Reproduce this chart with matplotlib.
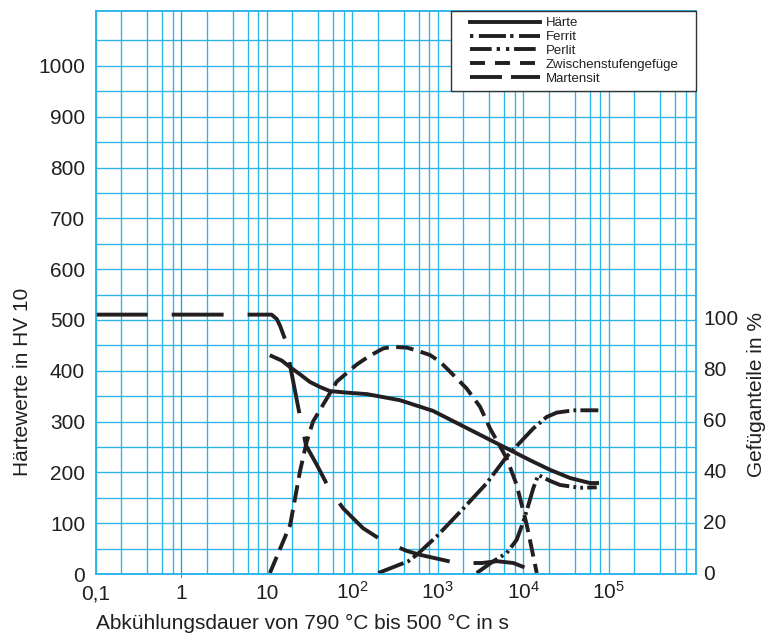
import matplotlib
matplotlib.use('Agg')
import matplotlib.pyplot as plt
from matplotlib.legend_handler import HandlerLine2D
from matplotlib.lines import Line2D
from matplotlib.ticker import NullFormatter

plt.rcParams['font.family'] = ['Liberation Sans', 'DejaVu Sans']
plt.rcParams['mathtext.fontset'] = 'custom'
plt.rcParams['mathtext.rm'] = 'Liberation Sans'
plt.rcParams['mathtext.it'] = 'Liberation Sans:italic'
plt.rcParams['mathtext.bf'] = 'Liberation Sans:bold'
plt.rcParams['lines.scale_dashes'] = False

# ---------------- data ----------------
# Härte (left axis, HV 10) vs. cooling time in s
haerte_t = [11.4, 15, 18.8, 24.5, 32, 42, 55, 86, 149, 362, 881, 2200, 5350,
            12000, 20600, 35200, 60400, 73000]
haerte_hv = [429, 420, 407, 393, 378, 368, 360, 357, 354, 342, 321, 287, 254,
             224, 205, 189, 179, 179]

# Gefügeanteile (right axis, %)
ferrit_t = [202, 453, 568, 972, 1990, 3740, 6410, 13100, 18800, 24700, 38600, 75600]
ferrit_pct = [0, 4.6, 7.1, 14.3, 25.2, 35.1, 45.5, 56.5, 61.0, 62.7, 63.6, 63.6]

perlit_t = [2860, 4470, 6410, 8390, 10030, 11500, 13100, 15000, 20600, 27000,
            46100, 72400]
perlit_pct = [0, 4.6, 7.8, 13.0, 20.1, 26.6, 33.1, 38.3, 36.0, 34.4, 33.3, 33.5]

zwischen_t = [10.9, 18.8, 24.5, 29.4, 34.8, 50.4, 65.9, 113, 160, 231, 300, 434, 568,
              813, 1063, 1393, 2180, 3125, 4090, 6410, 8390, 11000, 14400]
zwischen_pct = [0, 18.8, 39.7, 51.4, 59.2, 68.2, 74.8, 81.5, 84.9, 87.8, 88.4, 88.1, 87.0,
                85.2, 82.6, 78.7, 72.1, 65.0, 56.5, 44.8, 34.4, 18.8, 0]

martensit_t = [0.1, 11.4, 13.1, 14.3, 16.8, 18.8, 24.5, 28.8, 38.8, 53.5, 78.1, 134,
               229, 437, 621, 1667, 3300, 4940, 7650, 13000, 14500]
martensit_pct = [101, 101, 99.3, 96.7, 90.4, 81.0, 61.2, 49.9, 42.1, 33.1, 25.3, 17.5,
                 12.5, 8.6, 7.1, 3.9, 3.9, 4.6, 3.9, 0.9, 0]

series_labels = ['Härte', 'Ferrit', 'Perlit', 'Zwischenstufengefüge', 'Martensit']

x_ticks = [0.1, 1, 10, 100, 1e3, 1e4, 1e5]
x_tick_labels = ['0,1', '1', '10', r'$\mathregular{10^{2}}$', r'$\mathregular{10^{3}}$',
                 r'$\mathregular{10^{4}}$', r'$\mathregular{10^{5}}$']
y_ticks = [0, 100, 200, 300, 400, 500, 600, 700, 800, 900, 1000]
y2_ticks = [0, 20, 40, 60, 80, 100]

# ---------------- style ----------------
INK = '#231f20'
CYAN = '#2ab4e8'
LW = 2.8

ls_ferrit = (0, (19.5, 3, 2, 3))
ls_perlit = (0, (18, 3, 2, 3, 2, 3))
ls_zwischen = (0, (12.6, 5.4))
ls_martensit = (0, (37.4, 17.3))

legend_ls = {
    'Ferrit': (22.5, (19.5, 3, 2.4, 4)),
    'Perlit': (0, (15.6, 3.6, 2.4, 4.3, 2.4, 3.4)),
    'Zwischenstufengefüge': (0, (10.8, 7.2)),
    'Martensit': (0, (23, 6.5)),
}

fig = plt.figure(figsize=(7.67, 6.35), dpi=100)
ax = fig.add_axes([0.12477, 0.09606, 0.78227, 0.88661])
ax.set_xscale('log')
ax.set_xlim(0.1, 1.04e6)
ax.set_ylim(0, 1108)

ax.set_xticks(x_ticks, x_tick_labels)
ax.set_xticks([m * 10.0 ** k for k in range(-1, 6) for m in (2, 4, 6, 8)], minor=True)
ax.xaxis.set_minor_formatter(NullFormatter())
ax.set_yticks(y_ticks)
ax.set_yticks([v + 50 for v in y_ticks], minor=True)
ax.grid(which='both', color=CYAN, lw=0.95)
ax.set_axisbelow(True)
ax.tick_params(which='both', length=0, labelsize=15, labelcolor=INK)
ax.tick_params(axis='y', pad=7.7)
ax.tick_params(axis='x', pad=18.2)
for lab in ax.get_xticklabels():
    lab.set_verticalalignment('baseline')

ax.axvline(1, ymin=-0.006, ymax=0.995, color='#3a8fc4', lw=0.7, clip_on=False, zorder=1.5)

ax2 = ax.twinx()
ax2.set_ylim(-0.4, 219.7)
ax2.set_yticks(y2_ticks)
ax2.tick_params(length=0, labelsize=15, labelcolor=INK, pad=5.3)

for a in (ax, ax2):
    for sp in a.spines.values():
        sp.set_color(CYAN)
        sp.set_linewidth(1.1)

h1, = ax.plot(haerte_t, haerte_hv, color=INK, lw=LW, label=series_labels[0])
h2, = ax2.plot(ferrit_t, ferrit_pct, color=INK, lw=LW, ls=ls_ferrit, label=series_labels[1])
h3, = ax2.plot(perlit_t, perlit_pct, color=INK, lw=LW, ls=ls_perlit, label=series_labels[2])
h4, = ax2.plot(zwischen_t, zwischen_pct, color=INK, lw=LW, ls=ls_zwischen, label=series_labels[3])
h5, = ax2.plot(martensit_t, martensit_pct, color=INK, lw=LW, ls=ls_martensit, label=series_labels[4])


def upd(legend_handle, orig_handle):
    legend_handle.update_from(orig_handle)
    lab = orig_handle.get_label()
    if lab in legend_ls:
        legend_handle.set_linestyle(legend_ls[lab])


leg = ax2.legend([h1, h2, h3, h4, h5], series_labels, loc='upper left',
                 bbox_to_anchor=(0.592, 0.857, 0.408, 0.143), mode='expand',
                 borderaxespad=0, borderpad=0.47, labelspacing=0.12,
                 handlelength=6.28, handletextpad=0.45, fontsize=9.5,
                 fancybox=False, framealpha=1, edgecolor='#333333',
                 handler_map={Line2D: HandlerLine2D(xpad=0.97, update_func=upd)})
leg.get_frame().set_linewidth(1.0)
for t in leg.get_texts():
    t.set_color(INK)

fig.text(22.5 / 767, 1 - 476 / 635, 'Härtewerte in HV 10', rotation=90,
         ha='center', va='bottom', fontsize=15, color=INK)
fig.text(756.5 / 767, 1 - 476.7 / 635, 'Gefüganteile in %', rotation=90,
         ha='center', va='bottom', fontsize=15, color=INK)
fig.text(96 / 767, 1 - 629.3 / 635, 'Abkühlungsdauer von 790 °C bis 500 °C in s',
         ha='left', va='baseline', fontsize=15, color=INK)

fig.savefig('out.png', dpi=100)
